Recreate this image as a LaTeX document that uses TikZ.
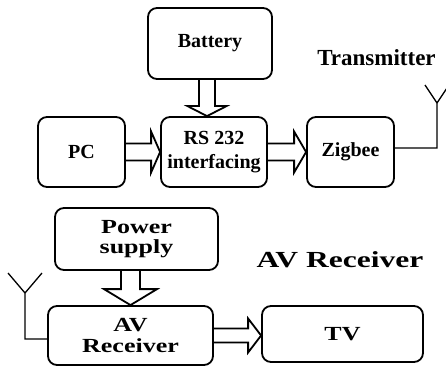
\documentclass[tikz,border=0pt]{standalone}
\usepackage{fontspec}
\usepackage{graphicx}
\setmainfont{Liberation Serif}
\usetikzlibrary{calc}
\newcommand\boxfont{\fontsize{20}{24}\selectfont\bfseries}
\newcommand\lowfont{\fontsize{20}{20.5}\selectfont\bfseries}
\newcommand\titlefont{\fontsize{23}{26}\selectfont\bfseries}
\newcommand\wide[1]{\scalebox{1.3}[1]{#1}}
% horizontal hollow block arrow: from, to, half shaft, half head, head length
\newcommand\hblock[5]{%
  \coordinate (he) at (#2.west |- #1.east);
  \draw[blk] ($(#1.east)+(0,#3)$) -- ($(he)+(-#5,#3)$) -- ($(he)+(-#5,#4)$) -- (he)
    -- ($(he)+(-#5,-#4)$) -- ($(he)+(-#5,-#3)$) -- ($(#1.east)+(0,-#3)$);}
% vertical hollow block arrow: from, to, dx, half shaft, half head, head length
\newcommand\vblock[6]{%
  \coordinate (vs) at ($(#1.south)+(#3,0)$);
  \coordinate (ve) at (vs |- #2.north);
  \draw[blk] ($(vs)+(-#4,0)$) -- ($(ve)+(-#4,-#6)$) -- ($(ve)+(-#5,-#6)$) -- (ve)
    -- ($(ve)+(#5,-#6)$) -- ($(ve)+(#4,-#6)$) -- ($(vs)+(#4,0)$);}
\begin{document}
\begin{tikzpicture}[x=1pt,y=-1pt,
  box/.style={draw, line width=1.8pt, rounded corners=9pt, inner sep=0pt, align=center},
  blk/.style={line width=1.8pt, line join=miter},
  ant/.style={line width=1.3pt}]
\useasboundingbox (0,0) rectangle (446,366);
\clip (0,0) rectangle (446,366);

% transmitter side
\node[box, font=\boxfont, minimum width=124pt, minimum height=71pt] (battery) at (210,43.5) {Battery};
\node[box, font=\boxfont, minimum width=87pt, minimum height=70pt] (pc) at (81.5,152) {PC};
\node[box, font=\boxfont, minimum width=106pt, minimum height=70pt] (rs) at (214,152) {RS 232\\interfacing};
\node[box, font=\boxfont, minimum width=87pt, minimum height=70pt] (zig) at (350.5,152) {Zigbee};
\node[anchor=base, font=\titlefont, inner sep=0pt] (trans) at (376.5,66) {Transmitter};

\vblock{battery}{rs}{-3}{8}{19.5}{10}
\hblock{pc}{rs}{8.5}{20.5}{9}
\hblock{rs}{zig}{8.5}{20.5}{12}

\coordinate (tcorner) at (437,148);
\coordinate (tbase) at (437,103);
\coordinate (tleft) at (425,85);
\coordinate (tright) at (449,85);
\draw[ant] (zig.east |- tcorner) -- (tcorner) -- (tbase) -- (tleft);
\draw[ant] (tbase) -- (tright);

% receiver side
\node[box, font=\lowfont, minimum width=163pt, minimum height=62pt] (power) at (136.5,239) {\wide{Power}\\\wide{supply}};
\node[box, font=\lowfont, minimum width=165pt, minimum height=59pt] (avr) at (130.5,335.5) {\wide{AV}\\\wide{Receiver}};
\node[box, font=\lowfont, minimum width=161pt, minimum height=56pt] (tv) at (342.5,334) {\wide{TV}};
\node[anchor=base, font=\titlefont, inner sep=0pt] (avtitle) at (340,267) {\scalebox{1.37}[1]{AV Receiver}};

\vblock{power}{avr}{-6}{9.5}{26.5}{16}
\hblock{avr}{tv}{7}{17}{13}

\coordinate (rcorner) at (25,339);
\coordinate (rbase) at (25,293);
\coordinate (rleft) at (8,273);
\coordinate (rright) at (42,273);
\draw[ant] (avr.west |- rcorner) -- (rcorner) -- (rbase) -- (rleft);
\draw[ant] (rbase) -- (rright);
\end{tikzpicture}
\end{document}
